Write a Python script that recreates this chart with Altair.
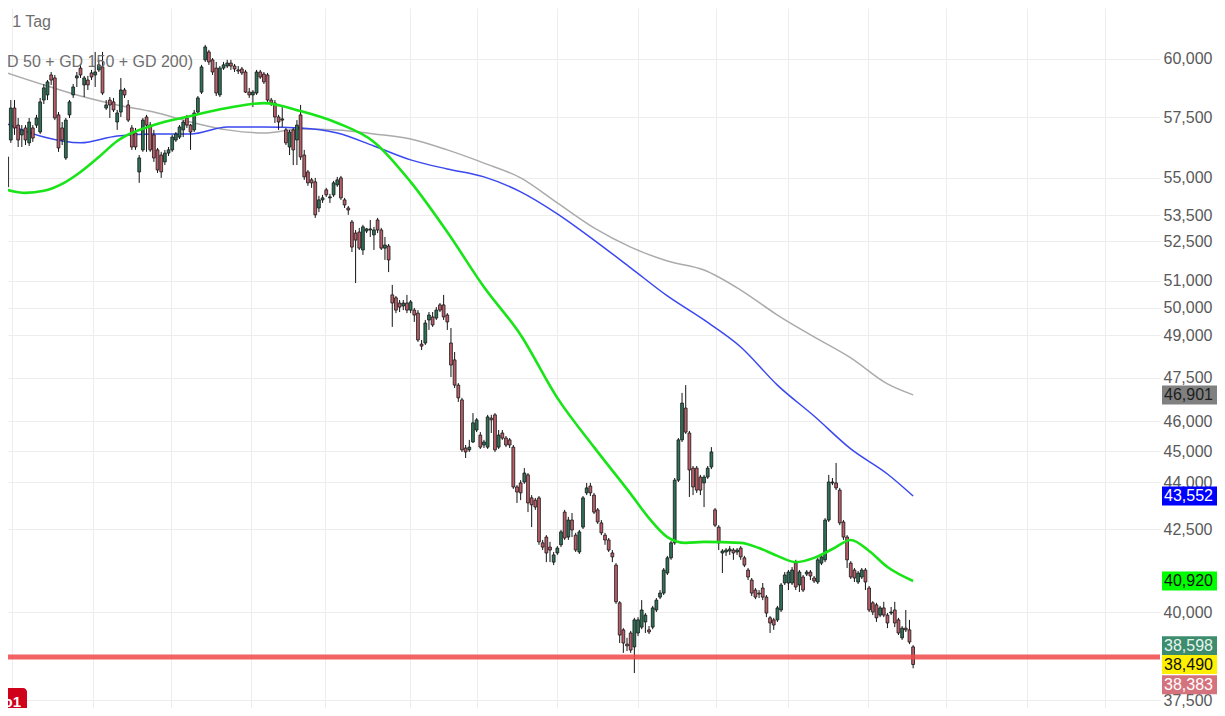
import altair as alt
import pandas as pd

# ---------------- data (daily candles) ----------------
O = [54630, 56540, 57880, 57160, 56750, 57040, 56420, 57040, 57160, 56870,
     58220, 58440, 59300, 59170, 57590, 57040, 55800, 57590, 58440, 59170,
     59600, 58870, 59080, 59390, 59300, 59520, 59650, 57880, 58220, 58140,
     57290, 57710, 58650, 58010, 57040, 56830, 55230, 56130, 57500, 57160,
     56750, 56130, 55920, 55640, 56000, 56130, 56540, 56660, 56960, 57460,
     57160, 56960, 57710, 58560, 59960, 60310, 59960, 59600, 58440, 59600,
     59690, 59820, 59690, 59520, 59560, 59430, 58560, 58440, 58520, 59430,
     59340, 59300, 58220, 58090, 57500, 57370, 56960, 56250, 56960, 56540,
     57590, 55920, 55230, 54910, 54830, 53790, 54110, 54510, 54190, 54310,
     54710, 54990, 54110, 53790, 53240, 52810, 52850, 52160, 52890, 52930,
     52740, 53320, 52930, 52230, 52310, 50470, 50360, 50170, 50060, 50170,
     49910, 49910, 49800, 48680, 48720, 49550, 49660, 49620, 50100, 50100,
     49730, 48720, 48120, 47240, 46730, 45110, 45050, 45310, 45710, 45540,
     45210, 45140, 46110, 46220, 45140, 45610, 45440, 45380, 45140, 43840,
     43970, 44000, 44230, 43490, 43420, 43490, 42080, 42260, 41950, 41490,
     41770, 42020, 43040, 42260, 42790, 42320, 41800, 42570, 43650, 43870,
     43580, 43110, 42700, 42320, 42170, 41770, 41400, 40270, 39480, 39070,
     39390, 38990, 39390, 39560, 39710, 39480, 39560, 40060, 40440, 40560,
     41160, 41620, 42080, 44060, 45380, 46450, 45610, 44450, 44450, 44160,
     43970, 44160, 44490, 43110, 42570, 41770, 41800, 41830, 41860, 41800,
     41920, 41620, 41250, 40950, 40650, 40560, 40710, 40440, 39830, 39770,
     39770, 40060, 40860, 40860, 40860, 41460, 40800, 41040, 41130, 41190,
     41010, 40890, 41460, 41560, 42790, 43970, 43970, 43740, 42730, 42260,
     41460, 41250, 40890, 41040, 41250, 40710, 40270, 40210, 39910, 40120,
     39910, 39970, 40060, 39770, 39250, 39530, 39480, 38990]
H = [56130, 58220, 58220, 57460, 57160, 57160, 57460, 57160, 57590, 58310,
     58910, 59080, 59430, 59300, 57710, 57290, 57460, 58220, 58910, 59430,
     59780, 59260, 59260, 59520, 60310, 59960, 60310, 58220, 58350, 58310,
     57800, 59170, 58740, 58220, 57160, 57040, 55920, 57460, 57590, 57290,
     56960, 56210, 56050, 56130, 56250, 56750, 56870, 57160, 57370, 57590,
     57210, 57800, 58390, 59740, 60620, 60400, 60040, 59870, 59690, 59870,
     59960, 59960, 59780, 59690, 59650, 59520, 58740, 58650, 59520, 59520,
     59430, 59390, 58310, 58220, 57590, 57920, 57040, 56960, 57040, 57370,
     58010, 56130, 55310, 54990, 54990, 54270, 54310, 54590, 54350, 54870,
     55030, 55070, 54190, 53870, 53320, 52930, 53010, 53130, 53010, 53320,
     53050, 53400, 53010, 52660, 52390, 50840, 50430, 50280, 50280, 50470,
     50280, 49990, 49910, 48830, 49550, 49840, 49840, 50020, 50170, 50470,
     49800, 49260, 48400, 47310, 46800, 45210, 45380, 46280, 46110, 45640,
     45380, 46220, 46220, 46280, 45710, 45710, 45510, 45440, 45210, 43900,
     44060, 44450, 44290, 43580, 43490, 43550, 42170, 42320, 42110, 41800,
     41980, 42480, 43110, 42890, 43010, 42390, 42480, 43550, 43970, 43970,
     43650, 43170, 42790, 42390, 42230, 41860, 41460, 40320, 39530, 39250,
     39450, 39830, 39850, 40350, 39970, 39590, 40180, 40410, 40650, 41310,
     41680, 42140, 44130, 45440, 46970, 47240, 45680, 44520, 44520, 44230,
     44230, 44520, 45140, 43170, 42630, 41890, 41920, 41980, 41920, 41920,
     41980, 41680, 41310, 41010, 40710, 40650, 40860, 40500, 39880, 39830,
     40180, 40860, 41190, 41250, 41340, 41560, 41250, 41100, 41250, 41250,
     41070, 41620, 41710, 42850, 44230, 44130, 44620, 43810, 42790, 42320,
     41520, 41310, 41220, 41310, 41310, 40770, 40320, 40270, 40180, 40300,
     39970, 40150, 40300, 39830, 39590, 40060, 39770, 39040]
L = [54510, 56420, 56750, 56250, 56250, 56330, 56290, 56460, 57040, 56790,
     58050, 58220, 58870, 57370, 56050, 56330, 55720, 57460, 58310, 58780,
     59170, 58350, 58650, 59080, 58780, 59430, 58440, 57800, 57460, 57710,
     56960, 57500, 58310, 57290, 56130, 56130, 54790, 56050, 56050, 56050,
     55640, 55190, 54990, 55510, 55880, 56050, 56460, 56580, 56660, 57040,
     56130, 56870, 57630, 58480, 59870, 59740, 59300, 58390, 58350, 59520,
     59600, 59520, 59430, 59340, 59300, 58520, 58310, 57920, 58440, 59130,
     58910, 58140, 57970, 57250, 56960, 57080, 56330, 55920, 55510, 55510,
     55720, 54910, 54670, 54590, 53400, 53630, 53990, 54230, 53990, 54230,
     54630, 54110, 53790, 53520, 52080, 50910, 52160, 51970, 52810, 52660,
     52160, 52810, 52160, 51780, 51320, 49300, 49800, 49840, 49910, 49800,
     49800, 49480, 48760, 48470, 48650, 49190, 49300, 49550, 49840, 49550,
     49190, 47520, 47140, 46660, 44980, 44780, 44980, 45280, 45640, 45080,
     45110, 45080, 45610, 44980, 45080, 45380, 45140, 45110, 43780, 43330,
     43420, 43940, 43040, 42570, 43110, 42020, 41860, 41490, 41490, 41400,
     41710, 41950, 42170, 42170, 42260, 41800, 41740, 42510, 43580, 43550,
     42980, 42670, 42320, 42020, 41800, 41490, 40240, 39100, 38820, 38870,
     38820, 38250, 39300, 39500, 39390, 39360, 39500, 40000, 40380, 40500,
     41100, 41560, 42020, 44000, 45310, 45580, 43520, 43580, 43650, 43580,
     43200, 44100, 44420, 42570, 41860, 41160, 41680, 41710, 41560, 41710,
     41560, 41340, 40950, 40470, 40380, 40410, 40350, 39850, 39390, 39480,
     39710, 40000, 40800, 40650, 40800, 40650, 40590, 40590, 41070, 40950,
     40860, 40830, 41400, 41490, 42730, 43900, 43740, 42630, 42170, 41310,
     40980, 40890, 40830, 40980, 40650, 40000, 39910, 39710, 39850, 39850,
     39530, 39910, 39560, 39330, 39190, 39420, 39070, 38383]
C = [55840, 57880, 57040, 56540, 56960, 56540, 57290, 56620, 57460, 58140,
     58740, 59000, 59080, 57460, 56210, 56540, 57370, 58140, 58780, 59260,
     59300, 59170, 58870, 59210, 59430, 59740, 58520, 58010, 58010, 57800,
     57670, 58650, 58440, 57370, 56250, 56250, 55800, 57370, 57160, 56130,
     55800, 55310, 55230, 56000, 56130, 56660, 56790, 57080, 57290, 57160,
     56870, 57670, 58310, 59650, 60530, 59870, 59430, 58520, 59600, 59740,
     59820, 59690, 59560, 59470, 59390, 58560, 58440, 58560, 59430, 59210,
     59000, 58220, 58090, 57500, 57290, 57420, 56420, 56870, 56130, 57160,
     55840, 55030, 54790, 54790, 53520, 54110, 54190, 54310, 54230, 54790,
     54910, 54190, 53910, 53710, 52270, 52540, 52230, 53050, 52970, 52970,
     52930, 52930, 52230, 52350, 51780, 50170, 49910, 50020, 50170, 49910,
     50210, 49730, 48830, 48610, 49440, 49730, 49370, 49910, 49910, 49660,
     49480, 47940, 47240, 46800, 45050, 44980, 45140, 45950, 46050, 45140,
     45310, 46150, 46050, 45050, 45540, 45440, 45210, 45210, 43840, 43680,
     43650, 44290, 43330, 43270, 43200, 42110, 41950, 41770, 41860, 41710,
     41920, 42420, 42230, 42790, 42480, 41860, 42420, 43490, 43810, 43650,
     43040, 42730, 42390, 42170, 41860, 41650, 40300, 39330, 39100, 39020,
     38900, 39770, 39770, 40060, 39910, 39420, 40120, 40350, 40560, 41250,
     41620, 42080, 44060, 45380, 46620, 45640, 44390, 43840, 43740, 43740,
     44160, 44450, 44980, 42630, 42080, 41830, 41860, 41890, 41770, 41860,
     41650, 41400, 41040, 40560, 40440, 40530, 40440, 39970, 39680, 39620,
     40120, 40800, 41100, 41190, 41250, 40740, 41190, 40650, 41190, 41070,
     40920, 41560, 41650, 42790, 44000, 44000, 43810, 42700, 42260, 41560,
     41040, 41010, 41160, 41250, 40890, 40060, 40000, 39830, 40120, 39910,
     39680, 40000, 39680, 39390, 39530, 39480, 39130, 38490]

# moving averages (GD 200 grey, GD 150 blue, GD 50 green), read at candle indices
ma_idx = [0, 10, 20, 30, 40, 50, 60, 70, 80, 90, 100, 110, 120, 130, 140, 150,
          160, 170, 180, 190, 200, 210, 220, 230, 240, 247]
gd200 = [59390, 58870, 58390, 58010, 57710, 57290, 56960, 56830, 57000, 56960,
         56790, 56580, 56130, 55590, 54990, 53990, 53010, 52270, 51740, 51400,
         50650, 49730, 48940, 48190, 47280, 46901]
gd150 = [57210, 56660, 56420, 56710, 56790, 56790, 57080, 57080, 57040, 56830,
         56290, 55720, 55350, 55030, 54430, 53560, 52540, 51480, 50430, 49550,
         48580, 47240, 46180, 45080, 44260, 43552]
gd50_idx = [0, 5, 10, 15, 20, 25, 30, 40, 50, 60, 70, 80, 90, 100, 110, 120, 130,
            140, 150, 160, 170, 175, 180, 185, 190, 200, 205, 210, 215, 220, 225,
            230, 235, 240, 247]
gd50 = [54510, 54390, 54470, 54750, 55230, 55840, 56500, 57160, 57540, 57880,
        58090, 57750, 57250, 56460, 54830, 52850, 50760, 49010, 46800, 45140,
        43620, 42850, 42260, 42080, 42110, 42080, 41920, 41680, 41490, 41620,
        41890, 42170, 41830, 41340, 40920]

month_starts = [1.3, 23.5, 44.6, 66.5, 86.7, 109.7, 128.1, 150.0, 171.9, 193.2,
                212.9, 234.6, 255.9, 278.1, 299.2]
y_ticks = [37500, 40000, 42500, 44000, 45000, 46000, 47500, 49000, 50000, 51000,
           52500, 53500, 55000, 57500, 60000, 62500]
support_level = [38700]
badge_values = [46901, 43552, 40920, 38598, 38490, 38383]

# ---------------- chart ----------------
FONT = "Liberation Sans"
W, HT = 1152, 700
UP, DN = "#2e7358", "#bd5f6b"

x_scale = alt.Scale(domain=[1.5946, 312.946], nice=False, zero=False)
y_scale = alt.Scale(type="log", domain=[37282, 62284], nice=False, zero=False)
x_axis = alt.Axis(values=month_starts, grid=True, gridColor="#ededed", labels=False,
                  ticks=False, domain=False, title=None)
y_axis = alt.Axis(values=y_ticks, orient="right", grid=True, gridColor="#ededed",
                  ticks=False, domain=False, labelPadding=3, labelFontSize=16,
                  labelColor="#595959", labelFont=FONT, format=",", title=None,
                  labelOverlap=False, labelAlign="left", labelBaseline="middle")


def X(field="i"):
    return alt.X(f"{field}:Q", scale=x_scale, axis=x_axis)


def Y(field):
    return alt.Y(f"{field}:Q", scale=y_scale, axis=y_axis)


df = pd.DataFrame({"i": list(range(len(O))), "o": O, "h": H, "l": L, "c": C})

wicks = alt.Chart(df).mark_rule(color="#141414", strokeWidth=1).encode(
    x=X(), y=Y("l"), y2="h")
bodies = alt.Chart(df).mark_bar(size=2.8, stroke="#141414", strokeWidth=0.8).encode(
    x=X(), y=Y("o"), y2="c",
    color=alt.condition("datum.c >= datum.o", alt.value(UP), alt.value(DN)))


def ma_line(idx, vals, color, width):
    d = pd.DataFrame({"i": idx, "v": vals})
    return alt.Chart(d).mark_line(color=color, strokeWidth=width,
                                  interpolate="monotone").encode(x=X(), y=Y("v"))


gray_line = ma_line(ma_idx, gd200, "#ababab", 1.5)
blue_line = ma_line(ma_idx, gd150, "#3a48f0", 1.5)
green_line = ma_line(gd50_idx, gd50, "#18e418", 2.6)

support = alt.Chart(pd.DataFrame({"v": support_level})).mark_rule(
    color="#f04848", strokeWidth=5, opacity=0.85).encode(y=Y("v"))


def badge(value, bg, fg, dy=0):
    d = pd.DataFrame({"v": [value]})
    box = alt.Chart(d).mark_tick(orient="horizontal", size=57, thickness=19,
                                 color=bg, opacity=1, yOffset=dy).encode(
        x=alt.value(1182.5), y=Y("v"))
    txt = alt.Chart(d).mark_text(align="left", baseline="middle", font=FONT,
                                 fontSize=16, color=fg, yOffset=dy).encode(
        x=alt.value(1156), y=Y("v"), text=alt.Text("v:Q", format=","))
    return box + txt


badges = (badge(badge_values[0], "#808080", "#1e1e1e")
          + badge(badge_values[1], "#0000ff", "#ffffff")
          + badge(badge_values[2], "#00ff00", "#111111")
          + badge(badge_values[3], "#3d8c6e", "#e8f4ee", -15)
          + badge(badge_values[4], "#fff000", "#111111")
          + badge(badge_values[5], "#d4737d", "#ffffff", 16.5))

title1 = alt.Chart(pd.DataFrame({"t": ["- 1 Tag"]})).mark_text(
    align="right", baseline="middle", font=FONT, fontSize=16, color="#6e6e6e").encode(
    x=alt.value(43), y=alt.value(14), text="t:N")
title2 = alt.Chart(pd.DataFrame({"t": ["(GD 50 + GD 150 + GD 200)"]})).mark_text(
    align="right", baseline="middle", font=FONT, fontSize=16, color="#6e6e6e").encode(
    x=alt.value(185), y=alt.value(54), text="t:N")

red_tag = alt.Chart(pd.DataFrame({"t": ["o1"]})).mark_rect(
    color="#d0021b", cornerRadius=4).encode(
    x=alt.value(-12), x2=alt.value(19), y=alt.value(680), y2=alt.value(712))
red_txt = alt.Chart(pd.DataFrame({"t": ["o1"]})).mark_text(
    align="right", baseline="middle", font=FONT, fontSize=15, fontWeight="bold",
    color="#ffffff").encode(x=alt.value(13), y=alt.value(694), text="t:N")

chart = alt.layer(
    gray_line, blue_line, wicks, bodies, green_line, support,
    badges, title1, title2, red_tag, red_txt
).properties(
    width=W, height=HT,
    autosize=alt.AutoSizeParams(type="none"),
    padding={"left": 0, "top": 0, "right": 57, "bottom": 0},
    background="#ffffff",
).configure_view(stroke=None)

chart.save("out.html", embed_options={"renderer": "svg", "actions": False})
